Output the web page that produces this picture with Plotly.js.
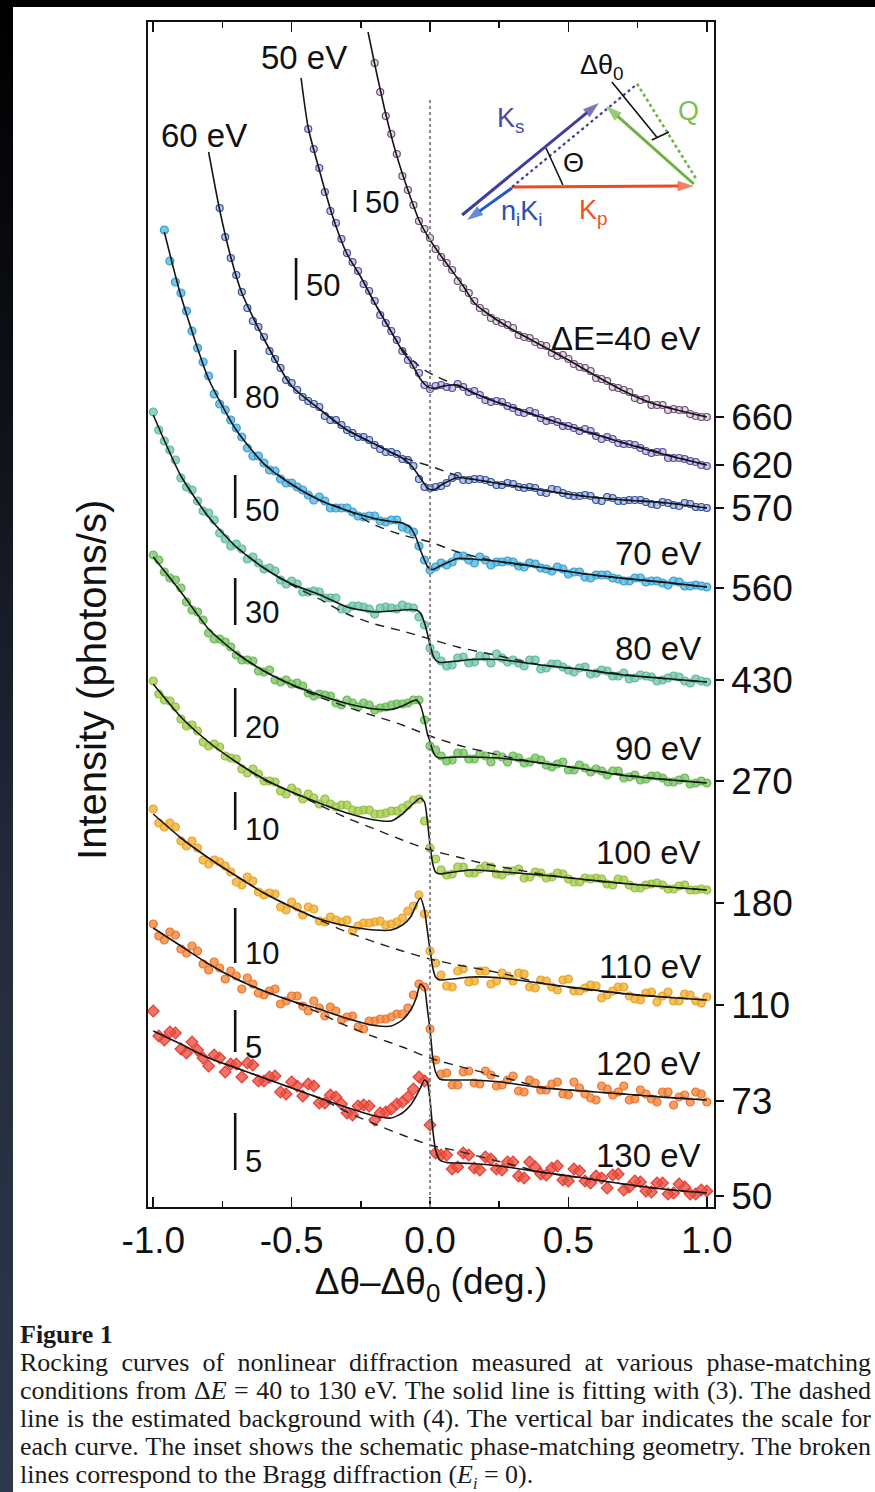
<!DOCTYPE html>
<html><head><meta charset="utf-8">
<script src="https://cdn.plot.ly/plotly-3.0.1.min.js"></script>
<style>
html,body{margin:0;padding:0;background:#fff;}
#wrap{position:relative;width:875px;height:1492px;overflow:hidden;background:#fff;}
#topbar{position:absolute;left:0;top:0;width:875px;height:7px;background:#000;}
#leftbar{position:absolute;left:0;top:0;width:13px;height:1492px;background:linear-gradient(to bottom,#000 0%,#0c0f16 25%,#232b3b 60%,#2e384b 100%);}
#chart{position:absolute;left:0;top:0;width:875px;height:1492px;}
#caption{position:absolute;left:20px;top:1321px;width:851px;font-family:'Liberation Serif','Times New Roman',serif;color:#1a1a1a;}
.fig{font-weight:bold;font-size:26px;line-height:28px;}
.ln{font-size:26px;line-height:28px;text-align:justify;text-align-last:justify;white-space:nowrap;}
.ln.last{text-align-last:left;}
</style></head>
<body>
<div id="wrap">
<div id="topbar"></div><div id="leftbar"></div>
<div id="chart"></div>
<div id="caption">
<div class="fig">Figure 1</div>
<div class="ln">Rocking curves of nonlinear diffraction measured at various phase-matching</div>
<div class="ln">conditions from Δ<i>E</i> = 40 to 130 eV. The solid line is fitting with (3). The dashed</div>
<div class="ln">line is the estimated background with (4). The vertical bar indicates the scale for</div>
<div class="ln">each curve. The inset shows the schematic phase-matching geometry. The broken</div>
<div class="ln last">lines correspond to the Bragg diffraction (<i>E<sub style="font-size:16px">i</sub></i> = 0).</div>
</div>
</div>
<script>
// ---------------- data (vertical values are offset intensity units of the stacked plot) ----------------
const X_GRID = [-1.00,-0.96,-0.92,-0.88,-0.84,-0.80,-0.76,-0.72,-0.68,-0.64,-0.60,-0.56,-0.52,-0.48,-0.44,-0.40,-0.36,-0.32,-0.28,-0.24,-0.20,-0.16,-0.12,-0.08,-0.04,0.00,0.04,0.08,0.12,0.16,0.20,0.24,0.28,0.32,0.36,0.40,0.44,0.48,0.52,0.56,0.60,0.64,0.68,0.72,0.76,0.80,0.84,0.88,0.92,0.96,1.00];
const X_MID  = [-0.98,-0.94,-0.90,-0.86,-0.82,-0.78,-0.74,-0.70,-0.66,-0.62,-0.58,-0.54,-0.50,-0.46,-0.42,-0.38,-0.34,-0.30,-0.26,-0.22,-0.18,-0.14,-0.10,-0.06,-0.02,0.02,0.06,0.10,0.14,0.18,0.22,0.26,0.30,0.34,0.38,0.42,0.46,0.50,0.54,0.58,0.62,0.66,0.70,0.74,0.78,0.82,0.86,0.90,0.94,0.98];

const CURVE_LABELS = ['ΔE=40 eV','50 eV','60 eV','70 eV','80 eV','90 eV','100 eV','110 eV','120 eV','130 eV'];

// measured points on X_GRID
const M40  = [1144,1091,1053,1017,986,969,950,937,919,906,895,886,882,872,869,862,854,852,843,839,829,826,819,815,807,802,802,798,797,791,790];
const M50  = [1078,1039,996,968,945,923,906,884,867,847,834,818,822,819,820,816,807,806,801,795,796,789,787,781,779,778,771,770,764,763,759,754,755,749,748,745,741];
const M60  = [999,949,915,886,870,848,827,817,806,800,787,782,774,770,762,755,753,747,728,719,721,729,727,728,727,722,724,720,720,715,718,714,711,712,707,710,706,707,707,703,705,702,704,700,699];
const M70  = [977,925,896,859,831,803,787,770,751,744,736,724,720,712,710,699,699,695,690,691,685,687,678,661,637,644,645,651,644,647,645,646,641,644,639,636,638,635,630,632,632,628,626,629,626,624,626,621,622,620];
const M80  = [795,766,747,720,706,694,674,661,658,650,638,636,623,623,615,615,609,598,601,600,593,600,598,600,590,559,546,542,550,545,550,553,545,544,547,538,543,540,535,540,534,536,531,528,532,530,527,531,526,528,525];
const M90  = [652,635,627,605,595,574,568,560,547,546,535,527,527,524,514,513,511,502,504,504,497,500,503,504,507,461,451,447,454,448,451,452,445,449,445,447,440,445,437,439,438,432,436,430,427,431,429,425,429,424,424];
const M100 = [526,507,500,481,476,461,460,449,438,438,426,425,413,415,413,403,403,402,397,397,393,394,396,402,408,359,337,333,340,334,341,333,336,338,330,334,330,333,325,329,329,323,328,322,319,323,322,318,322,317,317];
const M110 = [398,380,380,361,359,343,345,335,322,326,312,313,297,300,300,286,290,285,276,284,285,282,285,296,312,256,232,220,238,226,236,226,231,234,220,227,220,227,216,219,221,212,220,211,207,215,211,206,213,206,210];
const M120 = [283,267,272,254,256,237,239,236,218,223,212,218,206,211,196,199,200,187,191,178,186,188,193,199,223,178,133,122,135,124,136,121,127,116,127,117,123,113,125,113,107,118,115,107,117,108,115,102,112,115,105];
const M130 = [196,167,174,154,157,141,149,143,130,142,126,131,113,121,123,104,112,103,92,102,87,95,103,110,130,82,52,38,54,39,50,38,45,31,45,33,39,27,38,26,31,19,33,20,25,15,24,14,20,13,16];
// measured points on X_MID
const MM40  = [1115,1073,1031,1002,978,958,944,926,914,899,889,884,879,870,865,861,851,848,840,836,828,820,817,809,808,802,797,797,793,790];
const MM50  = [1058,1015,984,954,936,916,892,876,856,842,822,821,820,823,815,812,805,805,799,794,794,786,785,781,776,776,768,768,763,762,756,755,749,749,746,742];
const MM60  = [970,932,899,880,856,839,824,810,803,791,787,777,770,767,758,755,748,741,720,720,724,731,727,728,725,722,723,719,719,714,717,712,711,711,706,709,706,707,705,702,704,701,703,700];
const MM70  = [946,914,876,845,813,797,779,759,751,737,728,724,717,707,706,699,699,691,691,686,687,680,675,647,640,642,651,647,650,642,645,645,640,643,638,640,633,635,629,632,629,626,629,625,626,622,625,621,621];
const MM80  = [777,757,729,717,696,687,668,663,648,644,639,627,626,615,616,609,609,598,601,598,599,599,602,599,582,552,541,549,544,551,544,549,547,541,547,539,543,537,539,533,537,531,534,529,531,526,529,530,524,526];
const MM90  = [647,629,619,597,587,568,565,552,547,536,537,525,523,521,511,512,504,507,500,502,499,502,503,507,487,457,446,454,448,453,445,450,451,444,449,442,443,437,442,435,436,436,429,432,428,431,425,427,423,426];
const MM100 = [513,506,488,482,465,463,451,448,434,433,426,416,419,408,409,408,400,402,396,397,393,396,399,407,386,348,332,340,334,338,340,332,336,329,335,329,334,328,325,328,328,322,327,319,322,324,318,321,317,318];
const MM110 = [384,384,366,366,347,347,341,325,330,315,314,300,305,292,298,285,287,287,281,284,286,283,289,301,293,244,221,236,225,236,223,234,226,233,219,226,217,228,216,222,209,216,220,208,214,205,215,206,212,204];
const MM120 = [271,275,258,261,243,245,228,231,229,214,216,203,211,201,206,191,196,190,180,186,188,190,193,212,220,147,134,122,136,123,132,122,131,115,124,117,125,112,119,109,121,112,121,108,113,105,115,110,105,113];
const MM130 = [171,175,158,165,149,152,135,143,144,126,130,115,125,111,121,104,110,94,101,101,94,98,105,118,126,54,52,40,52,37,48,37,45,29,40,32,41,26,36,24,29,32,17,26,16,24,13,23,13,17];

// fitted curves (eq. 3)
const FIT_X    = [-1.0,-0.9,-0.8,-0.7,-0.6,-0.5,-0.4,-0.3,-0.2,-0.14,-0.1,-0.07,-0.05,-0.035,-0.02,-0.01,0.0,0.01,0.02,0.035,0.06,0.1,0.15,0.25,0.4,0.55,0.7,0.85,1.0];
const FIT70_X  = [-0.96,-0.9,-0.8,-0.7,-0.6,-0.5,-0.4,-0.3,-0.2,-0.14,-0.1,-0.07,-0.05,-0.035,-0.02,-0.01,0.0,0.01,0.02,0.035,0.06,0.1,0.15,0.25,0.4,0.55,0.7,0.85,1.0];
const FIT60_X  = [-0.8,-0.76,-0.72,-0.68,-0.6,-0.5,-0.4,-0.3,-0.2,-0.14,-0.1,-0.07,-0.05,-0.035,-0.02,-0.01,0.0,0.01,0.02,0.035,0.06,0.1,0.15,0.25,0.4,0.55,0.7,0.85,1.0];
const FIT50_X  = [-0.466,-0.44,-0.4,-0.35,-0.3,-0.25,-0.2,-0.15,-0.1,-0.07,-0.05,-0.035,-0.02,-0.01,0.0,0.01,0.02,0.035,0.06,0.1,0.15,0.25,0.4,0.55,0.7,0.85,1.0];
const FIT40_X  = [-0.224,-0.2,-0.16,-0.12,-0.08,-0.04,0.0,0.04,0.08,0.12,0.16,0.2,0.3,0.4,0.5,0.6,0.7,0.8,0.9,1.0];
const F40  = [1175,1143,1093,1051,1017,987,967,951,936,921,904,895,877,862,847,831,816,804,796.5,790];
const F50  = [1129,1079,1037,989,953,930,904,880,856,845,835,828,823,820.5,819,818.7,819,820,821.5,822,815,804,790,776.5,764,752.2,742];
const F60  = [1055,997,950,914,868,821,798,777,763,754.4,749,742,735,729,723,719,717.5,717,718,721,725,729.5,728,723.4,717,711,707,704.2,699];
const F70  = [975,911,828,777,743,722.5,707,696.5,688.4,685.5,684,679,669,657,647,641,638,637.5,638.5,641,644,648.5,648,645.5,639.7,633.5,628.6,624.6,620];
const F80  = [792,731,690,660,639,623,612.5,600,595,596,597,597.5,597,594,584,574,562,552,547,544.5,545,546,547.5,547.5,542,537.5,532,528.5,525];
const F90  = [650,615,578,554,536,522.5,512,503.5,498,497.5,501,505,507,502,487,474,465,456,451,449,449.5,450,450,449,444,438.3,431.5,427.5,424];
const F100 = [523,490,465,445,428,415,404,394,387,386,393,401,406,409,405,387,362,343,335,333,334,335.5,337,335.3,332,327.8,323.5,320.2,317];
const F110 = [393,369,349,331,314,300,288,281,277,277,282,290,302,309,297,277,257,239,230,227,227.5,228.5,230,229.3,223.8,218.4,213.4,209.8,207];
const F120 = [279,261,243,228,216,206,198,188.5,181.5,181,187,197,209,223,219,199,177,149,135,128,127,127,127,125.2,119.3,116,113,109.6,107];
const F130 = [176,163,149,139,129,119,109,99.5,91,89,94,102,111,119,127,125,107,77,57,47,44.5,44,43.5,41,35,29.2,23,17.8,14];

// estimated backgrounds (eq. 4)
const BG_X   = [-0.7,-0.6,-0.5,-0.4,-0.3,-0.2,-0.1,0.0,0.1,0.2,0.3,0.4,0.6,0.8,1.0];
const BG70_X = [-0.6,-0.5,-0.4,-0.3,-0.2,-0.1,0.0,0.1,0.2,0.3,0.4,0.6,0.8,1.0];
const BG60_X = [-0.3,-0.2,-0.12,-0.06,0.0,0.06,0.12,0.2,0.3,0.4,0.5,0.6,0.7,0.8,0.9,1.0];
const BG50_X = [-0.22,-0.14,-0.1,-0.06,-0.02,0.02,0.06,0.1,0.2,0.3,0.4,0.5,0.6,0.7,0.8,0.9,1.0];
const B50  = [914,875,858,846,837,831,826,821,809,800,790,781,773,764,757,749,742];
const B60  = [777,763,752,746,741,735,729.5,725.6,721.5,717,713,709.3,707,705.3,703,699];
const B70  = [743,723,707,697,682,672,665,655,648,643,639.5,631.4,626,620];
const B80  = [660,639,622,608,593,583,576,568,560,554,548,542.2,536,529.4,525];
const B90  = [554,536,522,510,500,491,482,471,462,455,449,444,436,429,424];
const B100 = [445,427,415,402,389,378,367,357,350,343,338,333,326,321.3,317];
const B110 = [331,314,300,287,275,265,256,248,242,237,231,224,216,211,207];
const B120 = [228,216,206,194,181,170,160,149,141,134,127,120,115,111,107];
const B130 = [139,129,119,109,95,83,72,62,56,49,42,35,27,19,14];

// right-hand tick labels (curve baselines) and scale bars
const RIGHT_TICK_TEXT = ['660','620','570','560','430','270','180','110','73','50'];
const RIGHT_TICK_VALS = [790,742,699,619,527,426,304,202,106,11];
const SCALE_TEXT = ['50','50','80','50','30','20','10','10','5','5'];
const X_TICK_VALS = [-1.0,-0.5,0.0,0.5,1.0];
const X_TICK_TEXT = ['-1.0','-0.5','0.0','0.5','1.0'];

// ---------------- styling / layout ----------------
const FONT = 'Liberation Sans, Arial, Helvetica, sans-serif';
const curves = [
  {m:M40, mm:MM40, s:20, sm:20, fx:FIT40_X, f:F40, bx:null, b:null, fill:'rgba(205,180,205,0.55)', edge:'#6b4f72', sym:'circle', size:7},
  {m:M50, mm:MM50, s:14, sm:14, fx:FIT50_X, f:F50, bx:BG50_X, b:B50, fill:'rgba(160,150,215,0.55)', edge:'#564a9c', sym:'circle', size:7},
  {m:M60, mm:MM60, s:6,  sm:6,  fx:FIT60_X, f:F60, bx:BG60_X, b:B60, fill:'rgba(125,150,215,0.55)', edge:'#34509c', sym:'circle', size:7},
  {m:M70, mm:MM70, s:1,  sm:1,  fx:FIT70_X, f:F70, bx:BG70_X, b:B70, fill:'rgba(85,185,227,0.8)', edge:'#3a9cd0', sym:'circle', size:8},
  {m:M80, mm:MM80, s:0,  sm:0,  fx:FIT_X, f:F80, bx:BG_X, b:B80, fill:'rgba(116,201,168,0.8)', edge:'#5fb898', sym:'circle', size:8},
  {m:M90, mm:MM90, s:0,  sm:0,  fx:FIT_X, f:F90, bx:BG_X, b:B90, fill:'rgba(124,198,103,0.8)', edge:'#68b756', sym:'circle', size:8},
  {m:M100,mm:MM100,s:0,  sm:0,  fx:FIT_X, f:F100,bx:BG_X, b:B100,fill:'rgba(166,206,79,0.8)', edge:'#93be40', sym:'circle', size:8},
  {m:M110,mm:MM110,s:0,  sm:0,  fx:FIT_X, f:F110,bx:BG_X, b:B110,fill:'rgba(243,178,53,0.8)', edge:'#e6a22a', sym:'circle', size:8},
  {m:M120,mm:MM120,s:0,  sm:0,  fx:FIT_X, f:F120,bx:BG_X, b:B120,fill:'rgba(246,136,59,0.8)', edge:'#ea7430', sym:'circle', size:8},
  {m:M130,mm:MM130,s:0,  sm:0,  fx:FIT_X, f:F130,bx:BG_X, b:B130,fill:'rgba(239,79,60,0.8)', edge:'#e0403a', sym:'diamond', size:9}
];

const traces = [];
curves.forEach(c => {
  traces.push({type:'scatter', mode:'markers', x:X_GRID.slice(c.s).concat(X_MID.slice(c.sm)), y:c.m.concat(c.mm),
    xaxis:'x', yaxis:'y', marker:{symbol:c.sym, size:c.size, color:c.fill, line:{color:c.edge, width:1.2}}, hoverinfo:'skip'});
});
curves.forEach(c => {
  if (c.b) traces.push({type:'scatter', mode:'lines', x:c.bx, y:c.b, xaxis:'x', yaxis:'y2',
    line:{color:'#222', width:1.4, dash:'9px,7px', shape:'spline', smoothing:0.8}, hoverinfo:'skip'});
});
curves.forEach(c => {
  traces.push({type:'scatter', mode:'lines', x:c.fx, y:c.f, xaxis:'x', yaxis:'y2',
    line:{color:'#151515', width:1.6, shape:'spline', smoothing:0.6}, hoverinfo:'skip'});
});

// inset: phase-matching geometry (arrows as line traces with arrow-head markers)
const arrows = [
  [0.116,992,0.610,1104,'#3d3d9e'],   // K_s
  [0.296,1019,0.134,987,'#2358c8'],   // n_i K_i
  [0.296,1020,0.953,1021,'#f04a23'],  // K_p
  [0.953,1023,0.636,1101,'#6db33f']   // Q
];
arrows.forEach(a => traces.push({type:'scatter', mode:'lines+markers', x:[a[0],a[2]], y:[a[1],a[3]], xaxis:'x', yaxis:'y2',
  line:{color:a[4], width:3}, marker:{symbol:['circle','arrow'], size:[0,17], angleref:'previous', color:a[4], line:{width:0}},
  hoverinfo:'skip'}));

const YR = [0, 1185];
const annotations = [];
const labelPos = [[0.986,869,'right'],[-0.455,1150,'center'],[-0.816,1072,'center'],[0.986,654,'right'],[0.986,559,'right'],[0.986,459,'right'],[0.986,355,'right'],[0.986,241,'right'],[0.986,144,'right'],[0.986,52,'right']];
CURVE_LABELS.forEach((t,i) => {
  const p = labelPos[i];
  annotations.push({x:p[0], y:p[1], xref:'x', yref:'y', text:t, showarrow:false, xanchor:p[2], yanchor:'middle',
    font:{family:FONT, size:33, color:'#111'}});
});
const barPos = [[-0.271,995,1017,1005],[-0.484,907,949,922],[-0.704,809,857,810],[-0.704,689,732,697],[-0.704,582,629,595],[-0.704,470,519,480],[-0.704,377,415,378],[-0.704,244,299,254],[-0.704,155,197,160],[-0.704,37,94,46]];
const shapes = [];
SCALE_TEXT.forEach((t,i) => {
  const p = barPos[i];
  shapes.push({type:'line', xref:'x', yref:'y', x0:p[0], x1:p[0], y0:p[1], y1:p[2], line:{color:'#111', width:2.6}});
  annotations.push({x:p[0]+0.03, y:p[3], xref:'x', yref:'y', text:t, showarrow:false, xanchor:'left', yanchor:'middle',
    font:{family:FONT, size:31, color:'#111'}});
});
shapes.push({type:'line', xref:'x', yref:'y', x0:0, x1:0, y0:0, y1:1110, line:{color:'#8a8a8a', width:2, dash:'dot'}});
shapes.push({type:'line', xref:'x', yref:'y', x0:0.296, y0:1020, x1:0.744, y1:1122, line:{color:'#3d3d9e', width:2.2, dash:'dot'}});
shapes.push({type:'line', xref:'x', yref:'y', x0:0.960, y0:1029, x1:0.744, y1:1125, line:{color:'#6db33f', width:2.6, dash:'dot'}});
shapes.push({type:'line', xref:'x', yref:'y', x0:0.657, y0:1125, x1:0.819, y1:1070, line:{color:'#111', width:1.6}});
shapes.push({type:'line', xref:'x', yref:'y', x0:0.801, y0:1067, x1:0.863, y1:1075, line:{color:'#111', width:1.6}});
shapes.push({type:'line', xref:'x', yref:'y', x0:0.419, y0:1059, x1:0.480, y1:1022, line:{color:'#111', width:1.6}});
const insetText = [
  ['K<sub>s</sub>',0.292,1087,'#4a4aa5'],
  ['Θ',0.520,1044,'#111'],
  ['n<sub>i</sub>K<sub>i</sub>',0.329,994,'#2850b5'],
  ['K<sub>p</sub>',0.592,995,'#f0502a'],
  ['Q',0.935,1096,'#7cc04e'],
  ['Δθ<sub>0</sub>',0.621,1140,'#111']
];
insetText.forEach(t => annotations.push({x:t[1], y:t[2], xref:'x', yref:'y', text:t[0], showarrow:false,
  xanchor:'center', yanchor:'middle', font:{family:FONT, size:27, color:t[3]}}));
// y-axis title (left side, ticks are on the right)
annotations.push({xref:'paper', x:-0.099, yref:'y', y:527, text:'Intensity (photons/s)', textangle:-90, showarrow:false,
  xanchor:'center', yanchor:'middle', font:{family:FONT, size:40, color:'#111'}});

const layout = {
  width:875, height:1492,
  margin:{l:148, r:161, t:22, b:285, pad:0},
  paper_bgcolor:'rgba(0,0,0,0)', plot_bgcolor:'#ffffff',
  showlegend:false, hovermode:false,
  xaxis:{range:[-1.019,1.026], tickmode:'array', tickvals:X_TICK_VALS, ticktext:X_TICK_TEXT,
    ticks:'inside', ticklen:10, tickwidth:1.6, tickcolor:'#111', ticklabelstandoff:0,
    minor:{tickmode:'array', tickvals:[-0.75,-0.25,0.25,0.75], ticks:'inside', ticklen:6, tickwidth:1.6, tickcolor:'#111'},
    showline:true, linecolor:'#111', linewidth:1.8, mirror:'ticks', showgrid:false, zeroline:false,
    tickfont:{family:FONT, size:37, color:'#111'},
    title:{text:'Δθ–Δθ<sub>0</sub> (deg.)', font:{family:FONT, size:37, color:'#111'}, standoff:6}},
  yaxis:{range:YR, tickmode:'array', tickvals:[], showticklabels:false, ticks:'', showline:true, linecolor:'#111', linewidth:1.8,
    showgrid:false, zeroline:false},
  yaxis2:{range:YR, overlaying:'y', side:'right', tickmode:'array', tickvals:RIGHT_TICK_VALS, ticktext:RIGHT_TICK_TEXT,
    ticks:'outside', ticklen:8, tickwidth:1.6, tickcolor:'#111', showline:true, linecolor:'#111', linewidth:1.8,
    showgrid:false, zeroline:false, ticklabelstandoff:0, tickfont:{family:FONT, size:37, color:'#111'}},
  shapes:shapes, annotations:annotations
};
Plotly.newPlot('chart', traces, layout, {staticPlot:true, displayModeBar:false});
</script>
</body></html>
